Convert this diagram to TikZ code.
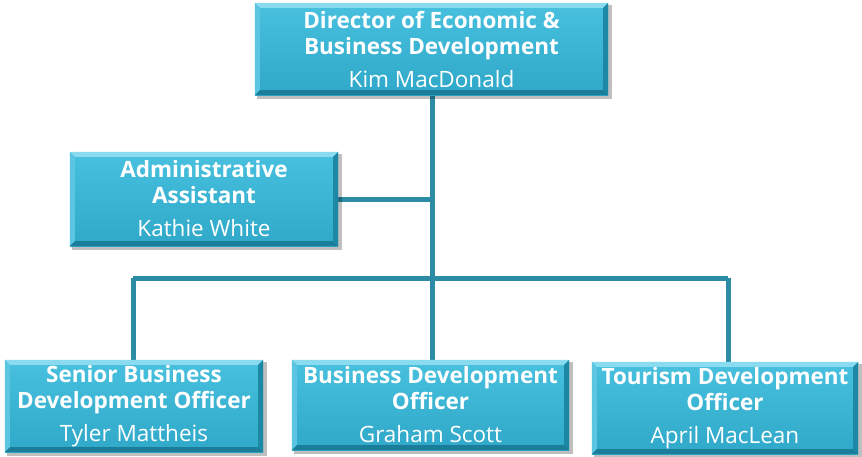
\documentclass[tikz,border=0pt]{standalone}
\usepackage{fontspec}
\setmainfont{Open Sans}
\definecolor{boxtop}{HTML}{48C0DE}
\definecolor{boxbot}{HTML}{2FA8C9}
\definecolor{bevlight}{HTML}{8ADBEF}
\definecolor{bevleft}{HTML}{5CC6E2}
\definecolor{bevright}{HTML}{1D87A6}
\definecolor{bevbottom}{HTML}{1B7D9A}
\definecolor{linkcol}{HTML}{2C8CA6}
\tikzset{
  orgbox/.style={
    rectangle, inner sep=0pt,
    top color=boxtop, bottom color=boxbot,
    text=white, align=center, font=\fontsize{22.5}{26}\selectfont
  },
  link/.style={draw=linkcol, line width=5pt},
  shade box/.style={fill=black, opacity=0.25}
}
% bevelled edges of a named box
\newcommand{\bevel}[1]{%
  \fill[bevlight] (#1.north west) -- (#1.north east)
    -- ([shift={(-5pt,-5pt)}]#1.north east) -- ([shift={(5pt,-5pt)}]#1.north west) -- cycle;
  \fill[bevleft] (#1.north west) -- (#1.south west)
    -- ([shift={(5pt,5pt)}]#1.south west) -- ([shift={(5pt,-5pt)}]#1.north west) -- cycle;
  \fill[bevright] (#1.north east) -- (#1.south east)
    -- ([shift={(-5pt,5pt)}]#1.south east) -- ([shift={(-5pt,-5pt)}]#1.north east) -- cycle;
  \fill[bevbottom] (#1.south west) -- (#1.south east)
    -- ([shift={(-5pt,5pt)}]#1.south east) -- ([shift={(5pt,5pt)}]#1.south west) -- cycle;
}
% soft shadow offset below and right of a named box
\newcommand{\boxshade}[1]{%
  \fill[shade box] ([shift={(2pt,-4pt)}]#1.south west) rectangle ([shift={(4pt,-2pt)}]#1.north east);
}
\begin{document}
\begin{tikzpicture}[x=1pt,y=-1pt]
  \useasboundingbox (0,0) rectangle (862,456);
  % connectors first, boxes on top
  \coordinate (top) at (432,95);
  \coordinate (trunk) at (432,278);
  \coordinate (busL) at (133,278);
  \coordinate (busR) at (728,278);
  \coordinate (adminJ) at (432,199);
  \coordinate (adminE) at (338,199);
  \coordinate (dropL) at (133,360);
  \coordinate (dropM) at (432,360);
  \coordinate (dropR) at (728,362);
  \draw[link] (top) -- (trunk);
  \draw[link] (adminJ) -- (adminE);
  \draw[link] (busL) -- (busR);
  \draw[link] (busL) -- (dropL);
  \draw[link] (trunk) -- (dropM);
  \draw[link] (busR) -- (dropR);

  % box outlines for shadows (empty placeholders)
  \path (431.5,49) node[minimum width=353pt, minimum height=92pt] (dirS) {}
        (204,199) node[minimum width=268pt, minimum height=94pt] (adminS) {}
        (134,406) node[minimum width=258pt, minimum height=92pt] (sbdoS) {}
        (430.5,405) node[minimum width=277pt, minimum height=90pt] (bdoS) {}
        (725,408) node[minimum width=266pt, minimum height=92pt] (tdoS) {};
  \boxshade{dirS}\boxshade{adminS}\boxshade{sbdoS}\boxshade{bdoS}\boxshade{tdoS}

  \node[orgbox, minimum width=353pt, minimum height=92pt] (dir) at (431.5,49)
    {\textbf{Director of Economic \&}\\\textbf{Business Development}\\[7pt]Kim MacDonald};
  \node[orgbox, minimum width=268pt, minimum height=94pt] (admin) at (204,199)
    {\textbf{Administrative}\\\textbf{Assistant}\\[7pt]Kathie White};
  \node[orgbox, minimum width=258pt, minimum height=92pt] (sbdo) at (134,406)
    {\textbf{Senior Business}\\\textbf{Development Officer}\\[7pt]Tyler Mattheis};
  \node[orgbox, minimum width=277pt, minimum height=90pt] (bdo) at (430.5,405)
    {\textbf{Business Development}\\\textbf{Officer}\\[7pt]Graham Scott};
  \node[orgbox, minimum width=266pt, minimum height=92pt] (tdo) at (725,408)
    {\textbf{Tourism Development}\\\textbf{Officer}\\[7pt]April MacLean};
  \bevel{dir}\bevel{admin}\bevel{sbdo}\bevel{bdo}\bevel{tdo}
\end{tikzpicture}
\end{document}
